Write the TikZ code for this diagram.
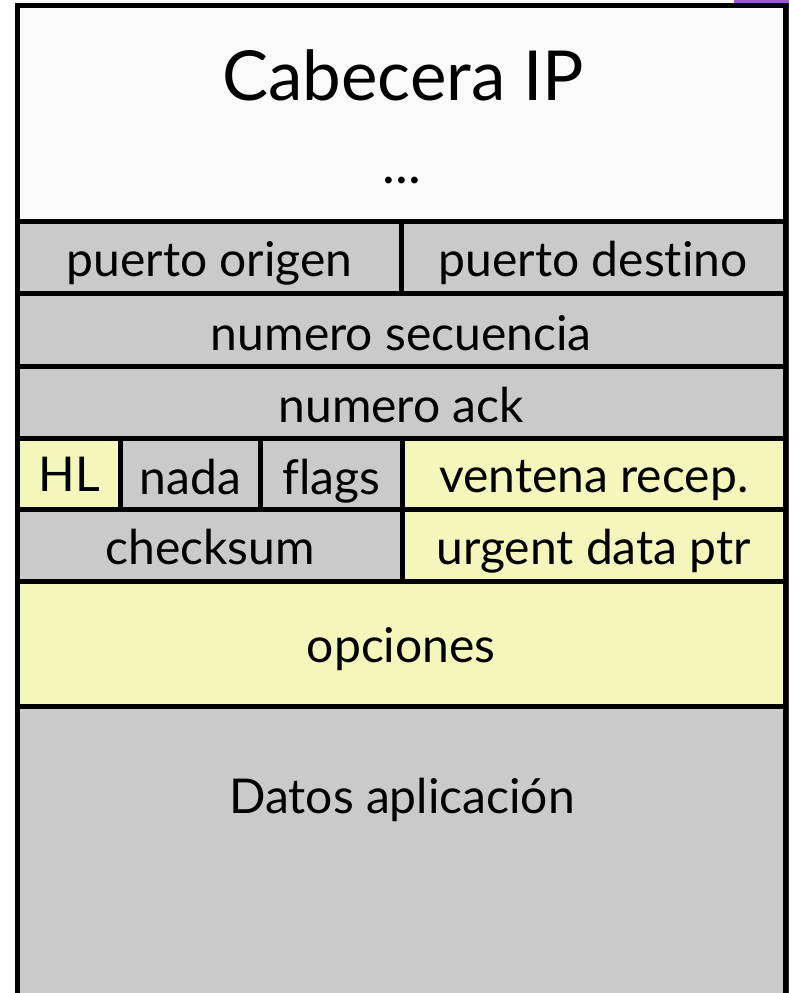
\documentclass[tikz,border=0pt]{standalone}
\usepackage{fontspec}
\setmainfont{Lato}[Ligatures=NoCommon]
\definecolor{cellgray}{HTML}{CACACA}
\definecolor{cellyel}{HTML}{F4F7BB}
\definecolor{topwhite}{HTML}{FAFAFA}
\definecolor{purplebar}{HTML}{9B59D6}
\definecolor{darkstrip}{HTML}{2A1A3A}
\tikzset{
  cellbox/.style={draw=black, line width=5pt, inner sep=0pt, outer sep=0pt},
  celltext/.style={font=\fontsize{48}{52}\selectfont, text=black, inner sep=0pt, anchor=base},
}
% #1 name, #2 x1, #3 y1, #4 x2, #5 y2, #6 fill, #7 baseline, #8 text
\newcommand{\fieldcell}[8]{%
  \path[cellbox, fill=#6] (#2pt,-#3pt) rectangle (#4pt,-#5pt);
  \node[celltext] (#1) at ({(#2+#4)/2*1pt},-#7pt) {#8};
}
\begin{document}
\begin{tikzpicture}[x=1pt,y=1pt]
\useasboundingbox (0,0) rectangle (789,-993);
\clip (0,0) rectangle (789,-993);
\fill[white] (0,0) rectangle (789,-993);
% top header
\path[cellbox, fill=topwhite] (17.5,-5.5) rectangle (785,-221);
\node[font=\fontsize{69}{74}\selectfont, inner sep=0pt, anchor=base] (ip) at (403,-100) {Cabecera IP};
\node[font=\fontsize{54}{58}\selectfont, inner sep=0pt, anchor=base] (dots) at (402,-183) {...};
% rows
\fieldcell{po}{17.5}{221}{401.5}{293}{cellgray}{276}{puerto origen}
\fieldcell{pd}{401.5}{221}{785}{293}{cellgray}{276}{puerto destino}
\fieldcell{seq}{17.5}{293}{785}{366}{cellgray}{350}{numero secuencia}
\fieldcell{ack}{17.5}{366}{785}{438}{cellgray}{422}{numero ack}
\fieldcell{hl}{17.5}{438}{120.5}{509}{cellyel}{491}{HL}
\fieldcell{nada}{120.5}{438}{260.5}{509}{cellgray}{494}{nada}
\fieldcell{flags}{260.5}{438}{402.5}{509}{cellgray}{494}{flags}
\fieldcell{win}{402.5}{438}{785}{509}{cellyel}{492}{ventena recep.}
\fieldcell{chk}{17.5}{509}{402.5}{581}{cellgray}{564}{checksum}
\fieldcell{urg}{402.5}{509}{785}{581}{cellyel}{564}{urgent data ptr}
\fieldcell{opt}{17.5}{581}{785}{706}{cellyel}{662}{opciones}
\path[cellbox, fill=cellgray] (17.5,-706) rectangle (785,-1000);
\node[celltext] (datos) at (402,-813) {Datos aplicación};
% decorations at the top right edge
\fill[purplebar] (734,0) rectangle (789,-3);
\fill[darkstrip] (787.5,-3) rectangle (789,-993);
\end{tikzpicture}
\end{document}
